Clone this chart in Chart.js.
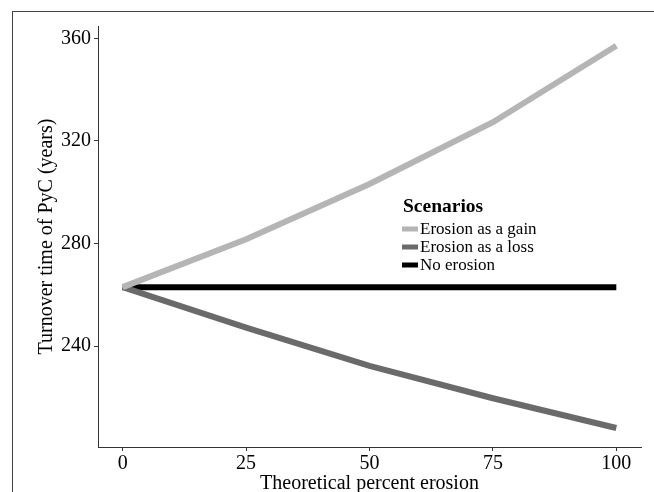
<!DOCTYPE html>
<html>
<head>
<meta charset="utf-8">
<script src="https://cdn.jsdelivr.net/npm/chart.js@4.4.0/dist/chart.umd.min.js"></script>
<style>
  html, body { margin: 0; padding: 0; background: #fff; }
  #wrap { position: relative; width: 654px; height: 492px; overflow: hidden; }
  #frame { position: absolute; left: 12px; top: 11px; right: -2px; bottom: -2px; border-left: 1px solid #444; border-top: 1px solid #444; }
  #grafico { position: absolute; left: 0; top: 0; }
</style>
</head>
<body>
<div id="wrap">
  <div id="frame"></div>
  <canvas id="grafico" width="654" height="492"></canvas>
</div>
<script>
// datos
const erosion = [0, 25, 50, 75, 100];
const ganancia = [263, 281.7, 303.2, 327.3, 357.1];
const perdida = [263, 247.2, 232.3, 219.7, 208.1];
const sinErosion = [263, 263, 263, 263, 263];
const ticksX = [0, 25, 50, 75, 100];
const ticksY = [240, 280, 320, 360];

const fuente = "'Liberation Serif', 'Times New Roman', serif";

const serie = (label, valores, color) => ({
    label: label,
    data: erosion.map((x, i) => ({ x: x, y: valores[i] })),
    borderColor: color,
    backgroundColor: color,
    borderWidth: 6,
    borderCapStyle: 'butt',
    pointRadius: 0,
    tension: 0
});

// leyenda dentro del area del grafico
const leyendaInterna = {
    id: 'leyendaInterna',
    afterDraw(chart) {
        const ctx = chart.ctx;
        const x0 = 403;
        ctx.save();
        ctx.fillStyle = '#000';
        ctx.textBaseline = 'alphabetic';
        ctx.textAlign = 'left';
        ctx.font = "bold 19.5px " + fuente;
        ctx.fillText('Scenarios', x0, 212);
        ctx.font = "17px " + fuente;
        ctx.textBaseline = 'middle';
        chart.data.datasets.forEach((ds, i) => {
            const y = 229 + i * 18;
            ctx.fillStyle = ds.borderColor;
            ctx.fillRect(x0 - 1, y - 2.5, 16, 5);
            ctx.fillStyle = '#000';
            ctx.fillText(ds.label, x0 + 17, y + 1);
        });
        ctx.restore();
    }
};

new Chart(document.getElementById('grafico').getContext('2d'), {
    type: 'line',
    data: {
        datasets: [
            serie('Erosion as a gain', ganancia, '#b5b5b5'),
            serie('Erosion as a loss', perdida, '#6a6a6a'),
            serie('No erosion', sinErosion, '#000000')
        ]
    },
    options: {
        responsive: false,
        animation: false,
        layout: { padding: { left: 0, top: 26, right: 13, bottom: 0 } },
        plugins: {
            legend: { display: false },
            tooltip: { enabled: false }
        },
        scales: {
            x: {
                type: 'linear',
                min: -5,
                max: 105,
                afterBuildTicks: (scale) => { scale.ticks = ticksX.map(v => ({ value: v })); },
                afterFit: (scale) => { scale.height = 45; },
                grid: { drawOnChartArea: false, drawTicks: true, tickLength: 4, color: '#333' },
                border: { display: true, color: '#333', width: 1 },
                ticks: { color: '#000', font: { family: fuente, size: 20 }, padding: 1, maxRotation: 0 },
                title: {
                    display: true,
                    text: 'Theoretical percent erosion',
                    color: '#000',
                    font: { family: fuente, size: 20, lineHeight: 1 },
                    padding: { top: 0, bottom: -2 }
                }
            },
            y: {
                type: 'linear',
                min: 200.7,
                max: 364.8,
                afterBuildTicks: (scale) => { scale.ticks = ticksY.map(v => ({ value: v })); },
                afterFit: (scale) => { scale.width = 98; },
                grid: { drawOnChartArea: false, drawTicks: true, tickLength: 4, color: '#333' },
                border: { display: true, color: '#333', width: 1 },
                ticks: { color: '#000', font: { family: fuente, size: 20 }, padding: 3 },
                title: {
                    display: true,
                    text: 'Turnover time of PyC (years)',
                    color: '#000',
                    font: { family: fuente, size: 20, lineHeight: 1.2 },
                    padding: { top: 35, bottom: 0 }
                }
            }
        }
    },
    plugins: [leyendaInterna]
});
</script>
</body>
</html>
